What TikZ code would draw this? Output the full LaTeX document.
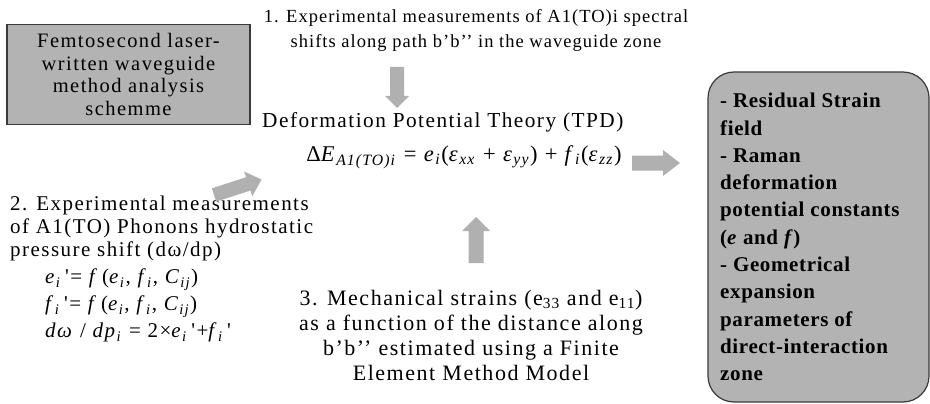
\documentclass[tikz,border=0pt]{standalone}
\usepackage{fontspec}
\setmainfont{Liberation Serif}
\newfontfamily\fA{Liberation Serif}[LetterSpace=5.5]
\newfontfamily\fB{Liberation Serif}[LetterSpace=7]
\newfontfamily\fC{Liberation Serif}[LetterSpace=3]
\definecolor{boxgray}{HTML}{B3B3B3}
\definecolor{arrowgray}{HTML}{B0B0B0}
\definecolor{edgegray}{HTML}{3A3A3A}
\newcommand{\mi}[1]{\textit{#1}}
\newcommand{\lsub}[1]{\textsubscript{\textit{#1}}}
\newcommand{\blockarrow}[7]{% x,y,angle,length,shaft,head width,head length
  \fill[arrowfill, shift={(#1,#2)}, rotate=#3]
    (0pt,-#5/2) -- (#4-#7,-#5/2) -- (#4-#7,-#6/2) -- (#4,0pt) -- (#4-#7,#6/2) -- (#4-#7,#5/2) -- (0pt,#5/2) -- cycle;}
\tikzset{
  txt/.style={inner sep=0pt, align=center},
  graybox/.style={draw=edgegray, fill=boxgray, line width=1.2pt},
  arrowfill/.style={fill=arrowgray}
}
\begin{document}
\begin{tikzpicture}[x=1pt,y=-1pt]
\useasboundingbox (0,0) rectangle (930,404);
\fill[white] (0,0) rectangle (930,404);
% left box
\node[graybox, minimum width=243pt, minimum height=100pt, inner sep=0pt] (lbox) at (128.5,74.5) {};
\node[txt, font=\fB\fontsize{20.5}{22.5}\selectfont] (ltxt) at (lbox.center) {Femtosecond laser-\\written waveguide\\method analysis\\schemme};
% text 1
\node[txt, font=\fA\fontsize{18.5}{25}\selectfont] (t1) at (476,30) {1. Experimental measurements of A1(TO)i spectral\\shifts along path b’b’’ in the waveguide zone};
% TPD
\node[txt, anchor=west, font=\fB\fontsize{21.3}{24}\selectfont] (tpd) at (262,122) {Deformation Potential Theory (TPD)};
% main equation
\node[txt, font=\fB\fontsize{22.5}{26}\selectfont] (eq) at (464,157) {Δ\mi{E}\lsub{A1(TO)i} = \mi{e}\lsub{i}(\mi{ε}\lsub{xx} + \mi{ε}\lsub{yy}) + \mi{f}\lsub{i}(\mi{ε}\lsub{zz})};
% text 2
\node[txt, align=left, anchor=north west, font=\fB\fontsize{21}{23}\selectfont] (t2) at (10,196) {2. Experimental measurements\\of A1(TO) Phonons hydrostatic\\pressure shift (dω/dp)};
\node[txt, align=left, anchor=north west, font=\fB\fontsize{21}{27}\selectfont] (eqs) at (45,269) {\mi{e}\lsub{i}\,'= \mi{f}\,(\mi{e}\lsub{i}, \mi{f}\lsub{i}, \mi{C}\lsub{ij})\\
\mi{f}\lsub{i}\,'= \mi{f}\,(\mi{e}\lsub{i}, \mi{f}\lsub{i}, \mi{C}\lsub{ij})\\
\mi{dω} / \mi{dp}\lsub{i} = 2×\mi{e}\lsub{i}\,'+\mi{f}\lsub{i}\,'};
% text 3
\node[txt, font=\fB\fontsize{22}{25}\selectfont] (t3) at (471,335) {3. Mechanical strains (e\textsubscript{33} and e\textsubscript{11})\\as a function of the distance along\\b’b’’ estimated using a Finite\\Element Method Model};
% right box
\draw[graybox, rounded corners=26pt] (708,72) rectangle (929,402);
\node[txt, align=left, anchor=north west, font=\fC\fontsize{21}{27.3}\selectfont\bfseries] (rtxt) at (720,93) {- Residual Strain\\field\\- Raman\\deformation\\potential constants\\(\mi{e} and \mi{f})\\- Geometrical\\expansion\\parameters of\\direct-interaction\\zone};
% block arrows
\blockarrow{397}{67}{-90}{41pt}{14pt}{24pt}{12pt}
\blockarrow{476}{263}{90}{46pt}{15pt}{28pt}{14pt}
\blockarrow{632}{163}{0}{48pt}{15pt}{26pt}{17pt}
\blockarrow{214}{195}{18}{50pt}{14pt}{26pt}{14pt}
\end{tikzpicture}
\end{document}
